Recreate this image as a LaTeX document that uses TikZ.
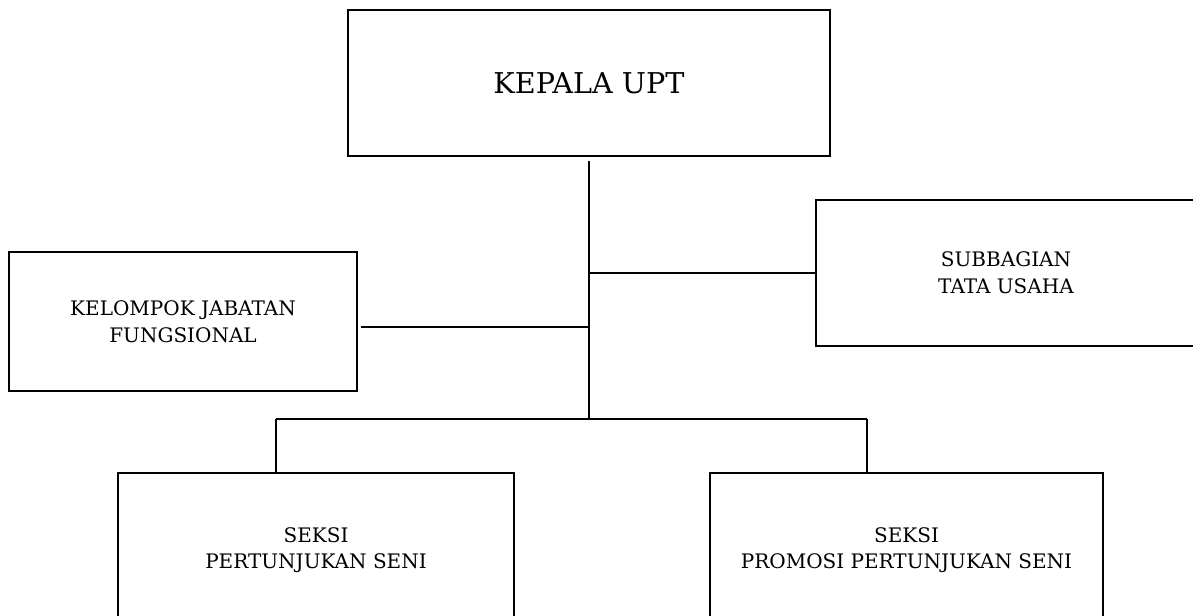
\documentclass[tikz,border=0pt]{standalone}
\usepackage{fontspec}
\setmainfont{DejaVu Serif}
\usepackage{tikz}
\usetikzlibrary{positioning,calc}

\begin{document}
\begin{tikzpicture}[
    x=0.75pt, y=-0.75pt,
    unit/.style={rectangle, draw, line width=1.6pt, inner sep=0pt, align=center, font=\fontsize{15}{20}\selectfont},
    link/.style={line width=1.6pt},
]
    \useasboundingbox (0,0) rectangle (1193,615);
    \node[unit, minimum width=361.5pt, minimum height=109.5pt, font=\fontsize{21.5}{26}\selectfont] (kepala) at (589,83) {KEPALA UPT};
    \node[unit, minimum width=285pt, minimum height=109.5pt] (subbag) at (1006,273) {SUBBAGIAN\\TATA USAHA};
    \node[unit, minimum width=261pt, minimum height=104.25pt] (kjf) at (183,321.5) {KELOMPOK JABATAN\\FUNGSIONAL};
    \node[unit, minimum width=297pt, minimum height=115.5pt] (seksiA) at (316,550) {SEKSI\\PERTUNJUKAN SENI};
    \node[unit, minimum width=294.75pt, minimum height=115.5pt] (seksiB) at (906.5,550) {SEKSI\\PROMOSI PERTUNJUKAN SENI};

    \coordinate (hub) at (589,419);
    \coordinate (barL) at (276,419);
    \coordinate (barR) at (867,419);

    \draw[link] ([yshift=-3pt]kepala.south) -- (hub);
    \draw[link] (subbag.west) -- (subbag.west -| hub);
    \draw[link] ([yshift=-4pt, xshift=2pt]kjf.east) -- ([yshift=-4pt]kjf.east -| hub);
    \draw[link] (barL) -- (barR);
    \draw[link] (barL) -- (barL |- seksiA.north);
    \draw[link] (barR) -- (barR |- seksiB.north);
\end{tikzpicture}
\end{document}
